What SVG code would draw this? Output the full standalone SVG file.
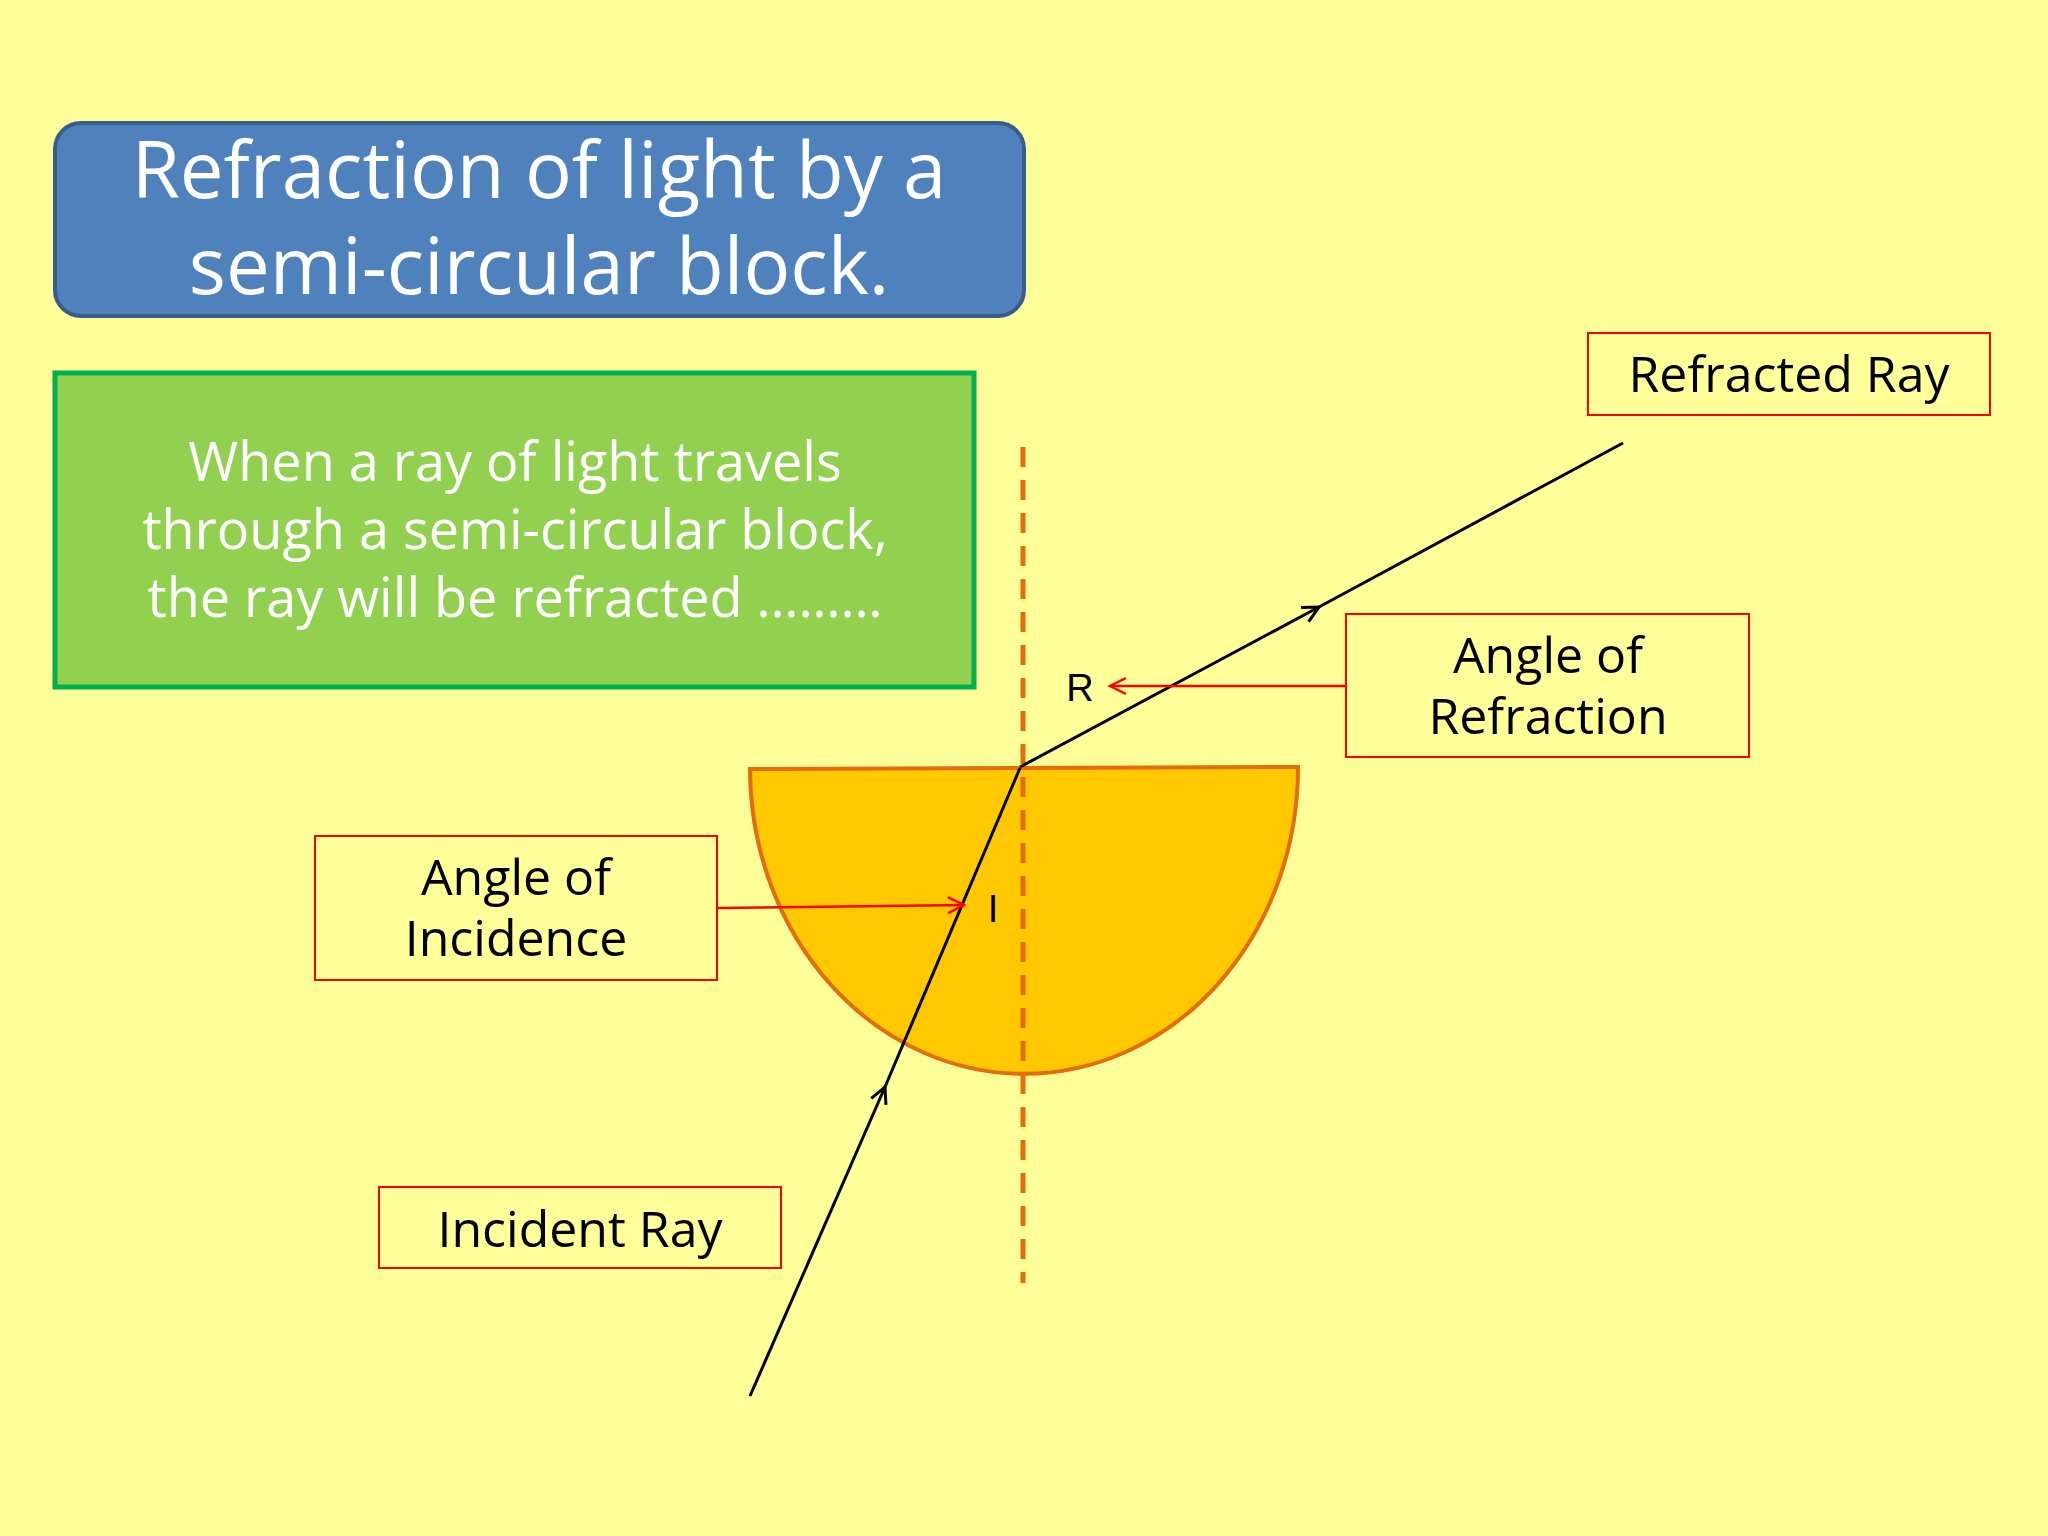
<svg xmlns="http://www.w3.org/2000/svg" width="2048" height="1536" viewBox="0 0 2048 1536">
<defs>
<style>
.t{font-family:"Comic Sans MS","Open Sans","DejaVu Sans",sans-serif;text-anchor:middle}
.lb{fill:none;stroke:#FF0000;stroke-width:2}
.lt{font-size:50px;fill:#000}
</style>
<marker id="ab" markerWidth="24" markerHeight="24" refX="20" refY="12" orient="auto" markerUnits="userSpaceOnUse"><path d="M4 4 L20 12 L4 20" fill="none" stroke="#000" stroke-width="3"/></marker>
<marker id="ar" markerWidth="24" markerHeight="24" refX="20" refY="12" orient="auto" markerUnits="userSpaceOnUse"><path d="M4 4 L20 12 L4 20" fill="none" stroke="#FF0000" stroke-width="2.5"/></marker>
</defs>
<rect width="2048" height="1536" fill="#FFFF99"/>
<g id="title"><rect x="55" y="123" width="969" height="193" rx="26" fill="#4F81BD" stroke="#385D8A" stroke-width="4"/>
<text class="t" x="539" y="198" font-size="78" fill="#fff">Refraction of light by a</text>
<text class="t" x="539" y="294" font-size="78" fill="#fff">semi-circular block.</text></g>
<g id="info"><rect x="55" y="373" width="919" height="314" fill="#92D050" stroke="#00B050" stroke-width="5"/>
<text class="t" x="515" y="481" font-size="54" fill="#fff">When a ray of light travels</text>
<text class="t" x="515" y="549" font-size="54" fill="#fff">through a semi-circular block,</text>
<text class="t" x="515" y="617" font-size="54" fill="#fff">the ray will be refracted ………</text></g>
<g id="block"><path d="M750 769 L1298 767 A274 306 0 0 1 750 769 Z" fill="#FFC800" stroke="#E46C0A" stroke-width="4"/></g>
<g id="normal"><line x1="1023" y1="447" x2="1023" y2="1283" stroke="#E46C0A" stroke-width="5" stroke-dasharray="20 13"/></g>
<g id="connectors" fill="none">
<line x1="750" y1="1396" x2="885" y2="1087" stroke="#000" stroke-width="3" marker-end="url(#ab)"/>
<line x1="885" y1="1087" x2="1020" y2="768" stroke="#000" stroke-width="3"/>
<line x1="1020" y1="767" x2="1319" y2="607" stroke="#000" stroke-width="3" marker-end="url(#ab)"/>
<line x1="1319" y1="607" x2="1623" y2="443" stroke="#000" stroke-width="3"/>
<line x1="1346" y1="686" x2="1110" y2="686" stroke="#FF0000" stroke-width="2.5" marker-end="url(#ar)"/>
<line x1="717" y1="908" x2="964" y2="905" stroke="#FF0000" stroke-width="2.5" marker-end="url(#ar)"/>
</g>
<g id="R"><text x="1080" y="701" font-family="Liberation Sans,sans-serif" font-size="38" text-anchor="middle">R</text></g>
<g id="I"><text x="993" y="922" font-family="Liberation Sans,sans-serif" font-size="38" text-anchor="middle">I</text></g>
<g id="refracted"><rect class="lb" x="1588" y="333" width="402" height="82"/><text class="t lt" x="1789" y="392">Refracted Ray</text></g>
<g id="aor"><rect class="lb" x="1346" y="614" width="403" height="143"/><text class="t lt" x="1548" y="673">Angle of</text><text class="t lt" x="1548" y="734">Refraction</text></g>
<g id="aoi"><rect class="lb" x="315" y="836" width="402" height="144"/><text class="t lt" x="516" y="895">Angle of</text><text class="t lt" x="516" y="956">Incidence</text></g>
<g id="incident"><rect class="lb" x="379" y="1187" width="402" height="81"/><text class="t lt" x="580" y="1247">Incident Ray</text></g>
</svg>
